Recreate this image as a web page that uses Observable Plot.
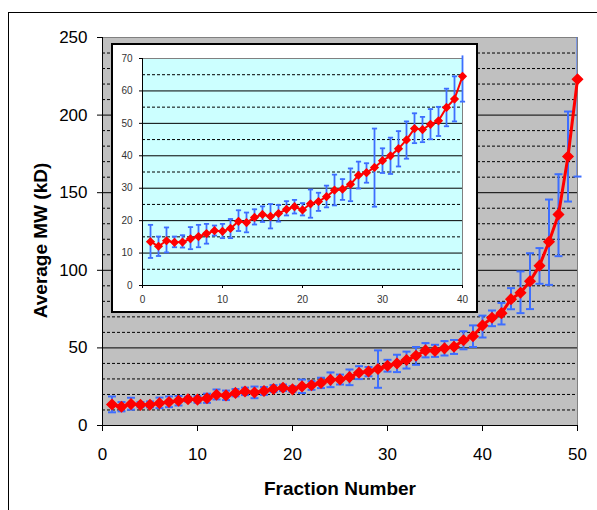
<!DOCTYPE html>
<html><head><meta charset="utf-8">
<script src="https://cdn.jsdelivr.net/npm/d3@7"></script>
<script src="https://cdn.jsdelivr.net/npm/@observablehq/plot@0.6"></script>
<style>
body{margin:0;background:#fff;}
#wrap{position:relative;width:597px;height:510px;overflow:hidden;font-family:"Liberation Sans",Arial,sans-serif;}
#frame{position:absolute;left:8px;top:12px;width:700px;height:700px;border-left:1px solid #000;border-top:1px solid #000;}
#main{position:absolute;left:0;top:0;line-height:0;}
#inset{position:absolute;left:111px;top:43px;border:2px solid #000;background:#fff;line-height:0;}
</style></head><body>
<div id="wrap"><div id="frame"></div><div id="main"></div><div id="inset"></div></div>
<script>
const fraction = [1,2,3,4,5,6,7,8,9,10,11,12,13,14,15,16,17,18,19,20,21,22,23,24,25,26,27,28,29,30,31,32,33,34,35,36,37,38,39,40,41,42,43,44,45,46,47,48,49,50];
const mw = [13.5,12.1,13.8,13.3,13.4,14.4,15.1,16.0,16.9,16.7,17.6,19.8,19.4,21.0,21.9,21.3,22.2,23.5,24.3,23.3,25.2,25.9,27.4,29.4,29.7,31.2,34.0,34.8,36.4,38.5,40.0,42.2,44.9,48.4,48.1,49.7,50.8,54.9,57.5,64.5,69.4,72.4,81.4,85.5,93.0,103.0,118.4,136.0,173.3,223.1];
const lo = [8.5,9.1,10.2,11.8,11.7,11.2,11.8,12.9,15.4,14.6,14.6,16.8,16.4,18.8,19.6,17.6,19.7,21.6,22.2,21.6,20.9,23.0,24.1,24.7,26.4,26.0,29.9,31.7,24.3,34.7,34.4,36.7,39.1,43.9,44.2,45.1,46.1,49.1,50.6,56.7,64.0,65.1,74.9,72.4,75.0,91.3,90.6,109.1,144.3,160.4];
const hi = [18.7,15.1,17.9,15.1,15.5,18.0,18.7,19.0,18.5,19.0,20.5,23.2,22.5,23.5,24.4,25.1,24.8,26.0,26.4,25.4,29.6,28.6,30.8,34.2,32.8,36.1,38.2,37.7,48.4,42.3,45.6,47.6,50.6,53.1,52.0,54.4,55.1,60.7,64.5,70.8,74.1,79.0,88.5,99.3,111.0,114.3,145.6,161.9,202.3,285];

const xTicksMain = [0,10,20,30,40,50];
const yTicksMain = [0,50,100,150,200,250];
const solidMain = [50,100,150,200];
const dashedMain = [10,20,30,40,60,70,80,90,110,120,130,140,160,170,180,190,210,220,230,240];

const xTicksInset = [0,10,20,30,40];
const yTicksInset = [0,10,20,30,40,50,60,70];
const solidInset = [10,20,30,40,50,60];
const dashedInset = [5,15,25,35,45,55,65];

const xLabel = "Fraction Number";
const yLabel = "Average MW (kD)";

const data = fraction.map((f, i) => ({f, mw: mw[i], lo: lo[i], hi: hi[i]}));
const insetData = data.filter(d => d.f <= 40);

const blue = "#3d6eff", red = "#ff0000";
const cap = w => ({draw(ctx) { ctx.moveTo(-w, 0); ctx.lineTo(w, 0); }});
const font = "Liberation Sans, Arial, Helvetica, sans-serif";

const main = Plot.plot({
  width: 597, height: 510,
  marginLeft: 102, marginRight: 20, marginTop: 37, marginBottom: 85,
  x: {domain: [0, 50]},
  y: {domain: [0, 250]},
  style: {fontFamily: font, fontSize: "17px", color: "#000", background: "transparent", overflow: "visible"},
  marks: [
    Plot.frame({fill: "#c0c0c0", stroke: "#808080"}),
    Plot.ruleY(dashedMain, {stroke: "#000", strokeDasharray: "3,2", strokeWidth: 1}),
    Plot.ruleY(solidMain, {stroke: "#000", strokeWidth: 1}),
    Plot.ruleX([0], {stroke: "#000", strokeWidth: 1}),
    Plot.ruleY([0], {stroke: "#000", strokeWidth: 1}),
    Plot.axisY({ticks: yTicksMain, tickSize: 5, tickPadding: 10, label: null, fontSize: 17}),
    Plot.axisX({ticks: xTicksMain, tickSize: 6, tickPadding: 16, label: null, fontSize: 17}),
    Plot.ruleX(data, {x: "f", y1: "lo", y2: "hi", stroke: blue, strokeWidth: 2, clip: true}),
    Plot.dot(data, {x: "f", y: "hi", symbol: cap(4), fill: "none", stroke: blue, strokeWidth: 2, clip: true}),
    Plot.dot(data, {x: "f", y: "lo", symbol: cap(4), fill: "none", stroke: blue, strokeWidth: 2}),
    Plot.line(data, {x: "f", y: "mw", stroke: red, strokeWidth: 3}),
    Plot.dot(data, {x: "f", y: "mw", symbol: "diamond2", r: 4.5, fill: red, stroke: red}),
    Plot.text([xLabel], {text: d => d, frameAnchor: "bottom", textAnchor: "middle", lineAnchor: "middle", dy: 63, fontSize: 19, fontWeight: "bold", fill: "#000"}),
    Plot.text([yLabel], {text: d => d, frameAnchor: "left", textAnchor: "middle", lineAnchor: "middle", rotate: -90, dx: -62, dy: 9, fontSize: 19, fontWeight: "bold", fill: "#000"})
  ]
});
document.getElementById("main").appendChild(main);

const inset = Plot.plot({
  width: 363, height: 266,
  marginLeft: 29, marginRight: 14, marginTop: 13, marginBottom: 26,
  x: {domain: [0, 40]},
  y: {domain: [0, 70]},
  style: {fontFamily: font, fontSize: "10px", color: "#333", background: "#fff", overflow: "visible"},
  marks: [
    Plot.frame({fill: "#ccffff", stroke: "#808080"}),
    Plot.ruleY(dashedInset, {stroke: "#000", strokeDasharray: "3,2", strokeWidth: 1}),
    Plot.ruleY(solidInset, {stroke: "#000", strokeWidth: 1}),
    Plot.ruleX([0], {stroke: "#000", strokeWidth: 1}),
    Plot.ruleY([0], {stroke: "#000", strokeWidth: 1}),
    Plot.axisY({ticks: yTicksInset, tickSize: 3, tickPadding: 7, label: null, fontSize: 10, stroke: "#000", fill: "#333"}),
    Plot.axisX({ticks: xTicksInset, tickSize: 3, tickPadding: 7, label: null, fontSize: 10, stroke: "#000", fill: "#333"}),
    Plot.ruleX(insetData, {x: "f", y1: "lo", y2: "hi", stroke: blue, strokeWidth: 1.8}),
    Plot.dot(insetData, {x: "f", y: "hi", symbol: cap(2.6), fill: "none", stroke: blue, strokeWidth: 1.8, clip: true}),
    Plot.dot(insetData, {x: "f", y: "lo", symbol: cap(2.6), fill: "none", stroke: blue, strokeWidth: 1.8}),
    Plot.line(insetData, {x: "f", y: "mw", stroke: red, strokeWidth: 2}),
    Plot.dot(insetData, {x: "f", y: "mw", symbol: "diamond2", r: 3.2, fill: red, stroke: red})
  ]
});
document.getElementById("inset").appendChild(inset);
</script>
</body></html>
